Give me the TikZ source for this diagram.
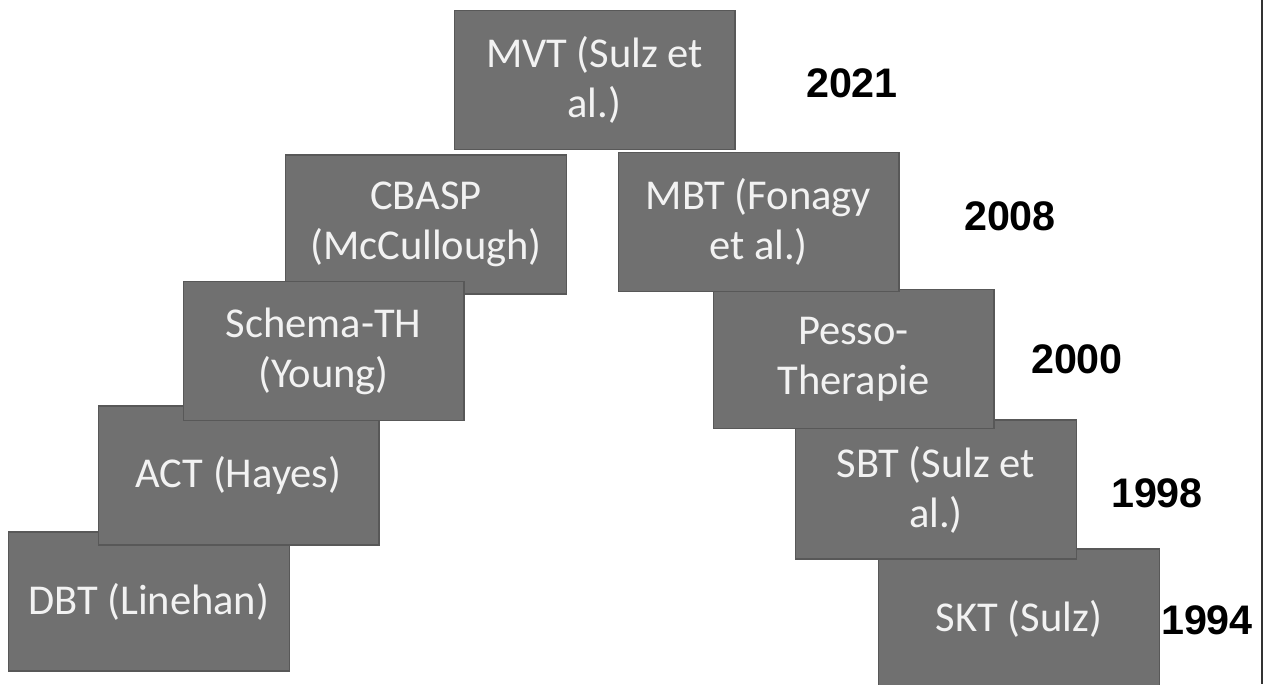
\documentclass[tikz,border=0pt]{standalone}
\usepackage{fontspec}
\setmainfont{Carlito}
\newfontfamily\aarfont{Liberation Sans}
\usepackage{tikz}
\definecolor{boksgraa}{RGB}{112,112,112}
\definecolor{kantgraa}{RGB}{88,88,88}
\tikzstyle{metode} = [rectangle, minimum width=5.62cm, minimum height=2.78cm, inner sep=0pt, draw=kantgraa, line width=0.6pt, fill=boksgraa, text=white!95!black, align=center, font=\fontsize{24.2}{28.5}\selectfont]
\tikzstyle{aar} = [font=\aarfont\bfseries\fontsize{23.5}{27}\selectfont]

\begin{document}
\begin{tikzpicture}[x=0.02cm, y=-0.02cm]
				\useasboundingbox (0,0) rectangle (1265,684);
				\clip (0,0) rectangle (1265,684);
				
				% venstre side
				\node (dbt) [metode] at (149,601.5) {DBT (Linehan)};
				\node (act) [metode] at (238.5,475.5) {ACT (Hayes)};
				\node (cbasp) [metode] at (426,224.5) {CBASP\\(McCullough)};
				\node (schema) [metode] at (323.5,351) {Schema-TH\\(Young)};
				
				\node (mvt) [metode] at (594.5,80) {MVT (Sulz et\\al.)};
				
				% hoyre side
				\node (skt) [metode] at (1019,618.5) {SKT (Sulz)};
				\node (sbt) [metode] at (936,489.5) {SBT (Sulz et\\al.)};
				\node (pesso) [metode] at (853.5,359) {Pesso-\\Therapie};
				\node (mbt) [metode] at (758.5,222) {MBT (Fonagy\\et al.)};
				
				% aarstall
				\node (aar1) [aar] at (852,83) {2021};
				\node (aar2) [aar] at (1010,216) {2008};
				\node (aar3) [aar] at (1077,359) {2000};
				\node (aar4) [aar] at (1157,493) {1998};
				\node (aar5) [aar] at (1207,620) {1994};
				
				\draw [line width=0.8pt, black!80] (1262,0) -- (1262,684);
				
\end{tikzpicture}
\end{document}
